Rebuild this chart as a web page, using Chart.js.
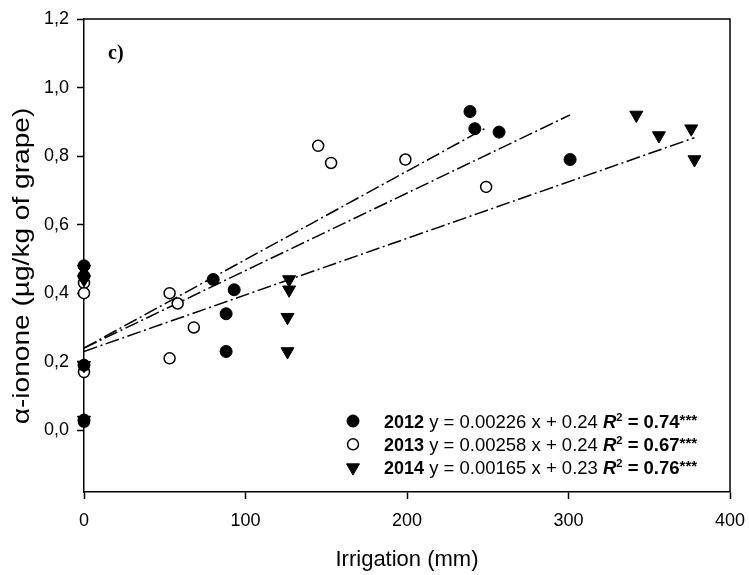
<!DOCTYPE html>
<html>
<head>
<meta charset="utf-8">
<script src="https://cdn.jsdelivr.net/npm/chart.js@4.4.0/dist/chart.umd.min.js"></script>
<style>
	html, body { margin: 0; padding: 0; background: #fff; }
	#wrap { width: 749px; height: 575px; position: relative; }
</style>
</head>
<body>
<div id="wrap"><canvas id="iononeChart"></canvas></div>
<script>
//	Irrigation (mm) and alpha-ionone values, one pair of arrays per year
var irr2012 = [0, 0, 0, 0, 80, 93, 88, 88, 239, 242, 257, 301];
var ion2012 = [0.48, 0.45, 0.19, 0.03, 0.44, 0.41, 0.34, 0.23, 0.93, 0.88, 0.87, 0.79];

var irr2013 = [0, 0, 0, 0, 53, 58, 68, 53, 145, 153, 199, 249];
var ion2013 = [0.43, 0.40, 0.17, 0.025, 0.40, 0.37, 0.30, 0.21, 0.83, 0.78, 0.79, 0.71];

var irr2014 = [0, 0, 0, 0, 127, 127, 126, 126, 342, 356, 376, 378];
var ion2014 = [0.47, 0.44, 0.19, 0.03, 0.44, 0.41, 0.33, 0.23, 0.92, 0.86, 0.88, 0.79];

//	Regression text shown in the legend
var years = ['2012', '2013', '2014'];
var slopes = [0.00226, 0.00258, 0.00165];
var intercepts = [0.24, 0.24, 0.23];
var slopeLabels = ['0.00226', '0.00258', '0.00165'];
var interceptLabels = ['0.24', '0.24', '0.23'];
var r2Labels = ['0.74', '0.67', '0.76'];

//	Axis ticks
var xTicks = [0, 100, 200, 300, 400];
var yTicks = [0, 0.2, 0.4, 0.6, 0.8, 1.0, 1.2];

var SANS = '"Liberation Sans", Arial, sans-serif';

function toPoints(xs, ys) {
	var pts = [];
	for (let i = 0; i < xs.length; i++) {
		pts.push({ x: xs[i], y: ys[i] });
	}
	return pts;
}

//	Fitted line from x = 0 to the largest irrigation of that year
function fitLine(xs, k) {
	var xEnd = Math.max.apply(null, xs);
	return [{ x: 0, y: intercepts[k] }, { x: xEnd, y: intercepts[k] + slopes[k] * xEnd }];
}

var markerStyles = [
	{ pointStyle: 'circle', radius: 6, fill: '#000', border: '#000', bw: 1, rotation: 0 },
	{ pointStyle: 'circle', radius: 5.5, fill: '#fff', border: '#000', bw: 1.5, rotation: 0 },
	{ pointStyle: 'triangle', radius: 7.5, fill: '#000', border: '#000', bw: 1, rotation: 180 }
];

function scatterSet(xs, ys, k, order) {
	var m = markerStyles[k];
	return {
		label: years[k],
		data: toPoints(xs, ys),
		pointStyle: m.pointStyle,
		pointRadius: m.radius,
		pointRotation: m.rotation,
		pointBackgroundColor: m.fill,
		pointBorderColor: m.border,
		pointBorderWidth: m.bw,
		showLine: false,
		clip: false,
		order: order
	};
}

function lineSet(xs, k) {
	return {
		label: 'fit ' + years[k],
		data: fitLine(xs, k),
		showLine: true,
		pointRadius: 0,
		borderColor: '#000',
		borderWidth: 1.5,
		borderDash: [14, 3.5, 2, 3.5],
		fill: false,
		clip: false,
		order: 5
	};
}

/**
 *	Frame, panel letter, y title and the regression legend drawn on the canvas
 */
var extrasPlugin = {
	id: 'extras',
	afterDraw: function (chart) {
		var ctx = chart.ctx;
		var a = chart.chartArea;
		ctx.save();
		ctx.strokeStyle = '#000';
		ctx.lineWidth = 1.5;
		ctx.beginPath();
		ctx.moveTo(a.left, a.top);
		ctx.lineTo(a.right, a.top);
		ctx.lineTo(a.right, a.bottom);
		ctx.stroke();

		ctx.fillStyle = '#000';
		ctx.font = 'bold 20px "Liberation Serif", serif';
		ctx.textBaseline = 'middle';
		ctx.textAlign = 'left';
		ctx.fillText('c)', 108, 54);

		//	y axis title (the original lettering is drawn a bit long)
		ctx.save();
		ctx.translate(22, 266);
		ctx.rotate(-Math.PI / 2);
		ctx.scale(1.17, 1);
		ctx.textAlign = 'center';
		ctx.textBaseline = 'middle';
		ctx.font = '24px ' + SANS;
		ctx.fillText('α-ionone (µg/kg of grape)', 0, 0);
		ctx.restore();

		for (let k = 0; k < 3; k++) {
			var cy = 421 + k * 23.3;
			drawMarker(ctx, markerStyles[k], 353, cy);
			var segs = [
				{ t: years[k], f: 'bold 18px ' + SANS, dy: 0 },
				{ t: ' y = ' + slopeLabels[k] + ' x + ' + interceptLabels[k] + ' ', f: '18.5px ' + SANS, dy: 0 },
				{ t: 'R', f: 'italic bold 18.5px ' + SANS, dy: 0 },
				{ t: '2', f: 'bold 11px ' + SANS, dy: -7 },
				{ t: ' = ' + r2Labels[k], f: 'bold 18.5px ' + SANS, dy: 0 },
				{ t: '***', f: 'bold 15px ' + SANS, dy: -3 }
			];
			var x = 384;
			ctx.textAlign = 'left';
			ctx.textBaseline = 'alphabetic';
			for (let s = 0; s < segs.length; s++) {
				ctx.font = segs[s].f;
				ctx.fillText(segs[s].t, x, cy + 6.5 + segs[s].dy);
				x += ctx.measureText(segs[s].t).width;
			}
		}
		ctx.restore();
	}
};

function drawMarker(ctx, m, x, y) {
	ctx.save();
	ctx.fillStyle = m.fill;
	ctx.strokeStyle = m.border;
	ctx.lineWidth = m.bw;
	ctx.beginPath();
	if (m.pointStyle === 'circle') {
		ctx.arc(x, y, m.radius, 0, Math.PI * 2);
	} else {
		var r = m.radius;
		var rad = Math.PI;
		for (let i = 0; i < 3; i++) {
			var px = x + Math.sin(rad) * r;
			var py = y - Math.cos(rad) * r;
			if (i === 0) ctx.moveTo(px, py); else ctx.lineTo(px, py);
			rad += Math.PI * 2 / 3;
		}
		ctx.closePath();
	}
	ctx.fill();
	ctx.stroke();
	ctx.restore();
}

var ctx = document.getElementById('iononeChart');
var chart = new Chart(ctx, {
	type: 'scatter',
	data: {
		datasets: [
			scatterSet(irr2012, ion2012, 0, 0),
			scatterSet(irr2014, ion2014, 2, 1),
			scatterSet(irr2013, ion2013, 1, 2),
			lineSet(irr2012, 0),
			lineSet(irr2013, 1),
			lineSet(irr2014, 2)
		]
	},
	options: {
		responsive: true,
		maintainAspectRatio: false,
		animation: false,
		layout: { padding: { top: 19, right: 19, left: 0, bottom: 0 } },
		plugins: {
			legend: { display: false },
			tooltip: { enabled: false }
		},
		scales: {
			x: {
				type: 'linear',
				min: 0,
				max: 400,
				afterBuildTicks: function (scale) {
					scale.ticks = xTicks.map(function (v) { return { value: v }; });
				},
				afterFit: function (scale) {
					scale.height = 83;
					scale.paddingLeft = 0;
					scale.paddingRight = 0;
				},
				ticks: {
					color: '#000',
					font: { family: SANS, size: 18 },
					padding: 11,
					maxRotation: 0
				},
				grid: { drawOnChartArea: false, tickLength: 7, tickColor: '#000', tickWidth: 1.5 },
				border: { display: true, color: '#000', width: 1.5 },
				title: {
					display: true,
					text: 'Irrigation (mm)',
					color: '#000',
					font: { family: SANS, size: 22 },
					padding: { top: 0, bottom: 2 }
				}
			},
			y: {
				type: 'linear',
				min: -0.18,
				max: 1.2,
				afterBuildTicks: function (scale) {
					scale.ticks = yTicks.map(function (v) { return { value: v }; });
				},
				afterFit: function (scale) {
					scale.width = 84;
					scale.paddingTop = 0;
					scale.paddingBottom = 0;
				},
				ticks: {
					color: '#000',
					font: { family: SANS, size: 18 },
					padding: 8,
					callback: function (v) { return v.toFixed(1).replace('.', ','); }
				},
				grid: { drawOnChartArea: false, tickLength: 7, tickColor: '#000', tickWidth: 1.5 },
				border: { display: true, color: '#000', width: 1.5 },
				title: { display: false }
			}
		}
	},
	plugins: [extrasPlugin]
});
</script>
</body>
</html>
